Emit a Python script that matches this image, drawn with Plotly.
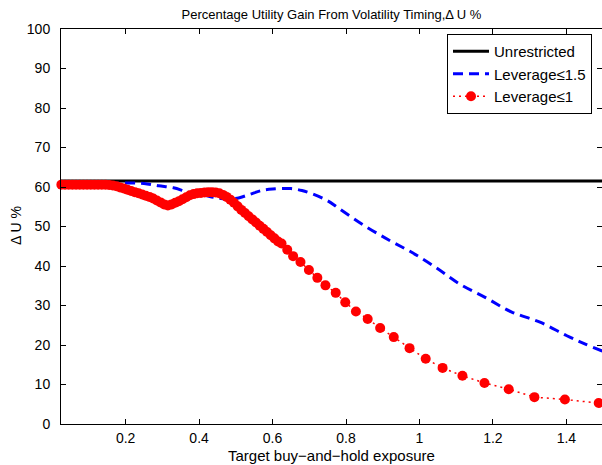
import plotly.graph_objects as go

# ---- data ----
unres_x = [0.024, 1.5]
unres_y = [61.5, 61.5]

lev15_x = [0.024, 0.10, 0.15, 0.20, 0.25, 0.29, 0.33, 0.37, 0.41, 0.45, 0.48, 0.51,
           0.54, 0.57, 0.60, 0.65, 0.68, 0.71, 0.75, 0.78, 0.85, 0.92, 0.98, 1.045,
           1.11, 1.18, 1.25, 1.33, 1.40, 1.45, 1.50]
lev15_y = [60.6, 60.6, 60.8, 61.0, 60.9, 60.3, 59.8, 58.7, 58.0, 57.2, 56.9, 57.3,
           58.2, 59.1, 59.5, 59.6, 59.1, 58.2, 56.5, 54.6, 50.2, 46.4, 43.4, 39.6,
           35.4, 32.0, 28.4, 25.7, 22.4, 20.3, 18.4]

lev1_x = [0.025, 0.035, 0.045, 0.055, 0.065, 0.075, 0.085, 0.095, 0.105, 0.115,
          0.125, 0.135, 0.145, 0.155, 0.165, 0.175, 0.185, 0.195, 0.205, 0.215,
          0.225, 0.235, 0.245, 0.255, 0.265, 0.275, 0.285, 0.295, 0.305, 0.315,
          0.325, 0.335, 0.345, 0.355, 0.365, 0.375, 0.385, 0.395, 0.405, 0.415,
          0.425, 0.435, 0.445, 0.455, 0.465, 0.475, 0.485, 0.495, 0.505, 0.515,
          0.525, 0.535, 0.545, 0.555, 0.565, 0.575, 0.585, 0.595, 0.605, 0.615,
          0.6245, 0.640, 0.656, 0.676, 0.699, 0.722, 0.744, 0.772, 0.798, 0.827,
          0.859, 0.893, 0.930, 0.973, 1.017, 1.063, 1.117, 1.177, 1.243, 1.313,
          1.396, 1.488]
lev1_y = [60.6, 60.6, 60.6, 60.6, 60.6, 60.6, 60.6, 60.6, 60.6, 60.6,
          60.6, 60.6, 60.6, 60.5, 60.4, 60.2, 59.9, 59.6, 59.3, 59.0,
          58.7, 58.4, 58.1, 57.8, 57.5, 57.1, 56.6, 56.1, 55.6, 55.3,
          55.6, 56.0, 56.4, 56.9, 57.4, 57.9, 58.2, 58.4, 58.5, 58.6,
          58.7, 58.7, 58.6, 58.4, 58.0, 57.5, 56.8, 56.0, 55.1, 54.2,
          53.4, 52.6, 51.8, 51.0, 50.2, 49.4, 48.6, 47.8, 47.0, 46.2,
          45.7, 44.1, 42.5, 41.0, 39.0, 37.0, 35.1, 33.2, 30.8, 28.5,
          26.6, 24.3, 22.0, 19.2, 16.5, 14.2, 12.2, 10.4, 8.8, 6.8,
          6.2, 5.3]

x_ticks = [0.2, 0.4, 0.6, 0.8, 1.0, 1.2, 1.4]
x_tick_labels = ["0.2", "0.4", "0.6", "0.8", "1", "1.2", "1.4"]
y_ticks = [0, 10, 20, 30, 40, 50, 60, 70, 80, 90, 100]

FONT = "Liberation Sans, Arial, Helvetica, sans-serif"
L, R, T, B = 61, 0, 29, 41
W, H = 602, 465
PW, PH = W - L - R, H - T - B

fig = go.Figure()
fig.add_trace(go.Scatter(x=unres_x, y=unres_y, mode="lines", name="Unrestricted",
                         line=dict(color="black", width=3)))
fig.add_trace(go.Scatter(x=lev15_x, y=lev15_y, mode="lines", name="Leverage≤1.5",
                         line=dict(color="#0000ff", width=3, dash="10px,6px", shape="spline")))
fig.add_trace(go.Scatter(x=lev1_x, y=lev1_y, mode="lines+markers", name="Leverage≤1",
                         line=dict(color="#ff0000", width=1.5, dash="2px,4px"),
                         marker=dict(color="#ff0000", size=10, symbol="circle"),
                         cliponaxis=False))

axis_common = dict(showgrid=False, zeroline=False, showline=True, linecolor="black",
                   linewidth=1, mirror="ticks", ticks="inside", ticklen=5,
                   tickcolor="black", automargin=False,
                   tickfont=dict(family=FONT, size=14, color="black"))

fig.update_xaxes(range=[0.024, 1.497], tickvals=x_ticks, ticktext=x_tick_labels,
                 ticklabelstandoff=1, **axis_common)
fig.update_yaxes(range=[0, 100], tickvals=y_ticks, ticklabelstandoff=7,
                 **axis_common)

fig.update_layout(
    width=W, height=H,
    margin=dict(l=L, r=R, t=T, b=B),
    paper_bgcolor="white", plot_bgcolor="white",
    font=dict(family=FONT, size=14, color="black"),
    title=dict(text="Percentage Utility Gain From Volatility Timing,\u0394 U %",
               x=0.5, xref="paper", xanchor="center",
               y=1 - 14 / H, yref="container", yanchor="middle",
               font=dict(family=FONT, size=13, color="black")),
    legend=dict(x=(447 - L) / PW, y=(H - B - 34) / PH, xanchor="left", yanchor="top",
                bgcolor="white", bordercolor="black", borderwidth=1,
                font=dict(family=FONT, size=15, color="black"),
                itemwidth=36, tracegroupgap=0),
    showlegend=True,
    annotations=[
        dict(text="Target buy\u2212and\u2212hold exposure", xref="paper", yref="paper",
             x=0.5, y=(H - B - 455) / PH, xanchor="center", yanchor="middle",
             showarrow=False, font=dict(family=FONT, size=15, color="black")),
        dict(text="\u0394 U %", xref="paper", yref="paper",
             x=(16 - L) / PW, y=(H - B - 226) / PH, xanchor="center", yanchor="middle",
             textangle=-90, showarrow=False, font=dict(family=FONT, size=14, color="black")),
    ],
)

fig.write_html("out.html", config={"displayModeBar": False},
               post_script="document.body.style.margin='0';document.body.style.overflow='hidden';")
